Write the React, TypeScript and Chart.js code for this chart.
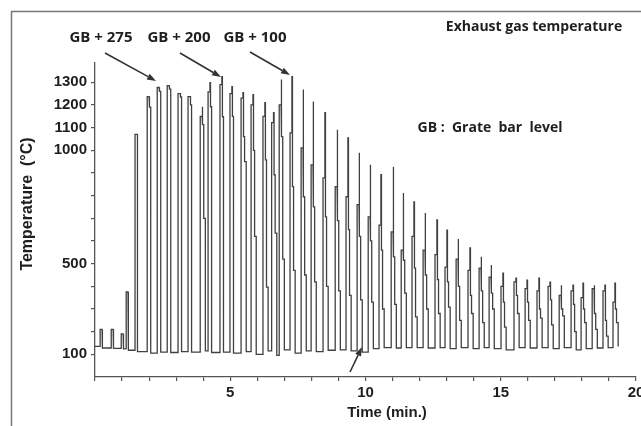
import React, { useEffect, useRef } from 'react';
import { Chart, registerables } from 'chart.js';

Chart.register(...registerables);

// Each recorder cycle: rise to a first level, jump to the peak, step down twice, fall to the low level.
const peakTimes = [0.26, 0.67, 1.04, 1.22, 1.55, 2.0, 2.37, 2.74, 3.14, 3.51, 3.96, 4.25, 4.69, 5.06, 5.47, 5.84, 6.28, 6.6, 6.88, 7.28, 7.69, 8.06, 8.5, 8.95, 9.35, 9.76, 10.17, 10.57, 11.02, 11.39, 11.79, 12.2, 12.64, 13.01, 13.42, 13.86, 14.27, 14.64, 15.08, 15.56, 15.97, 16.41, 16.82, 17.23, 17.67, 18.04, 18.45, 18.85, 19.22];
const riseLevels = [210, 210, 190, 375, 1070, 1237, 1277, 1285, 1250, 1237, 1150, 1258, 1290, 1250, 1230, 1200, 1150, 1122, 1200, 1077, 1011, 936, 878, 840, 795, 760, 706, 670, 640, 560, 620, 560, 540, 485, 520, 470, 480, 440, 400, 420, 390, 380, 400, 360, 380, 350, 390, 380, 330];
const peakLevels = [210, 210, 190, 375, 1070, 1237, 1277, 1285, 1250, 1237, 1192, 1298, 1325, 1281, 1254, 1245, 1210, 1166, 1312, 1325, 1268, 1215, 1166, 1091, 1055, 989, 936, 892, 927, 812, 772, 723, 693, 648, 609, 569, 530, 494, 458, 436, 427, 436, 418, 405, 405, 414, 405, 405, 414];
const upperSteps = [128, 126, 124, 118, 112, 1190, 1260, 1270, 1235, 1200, 1113, 1192, 1148, 1150, 1060, 1000, 958, 892, 1060, 840, 795, 750, 706, 690, 650, 620, 600, 560, 530, 515, 480, 450, 430, 420, 400, 360, 380, 370, 330, 360, 330, 300, 340, 300, 320, 300, 280, 250, 300];
const lowerSteps = [128, 126, 124, 118, 112, 105, 110, 108, 112, 110, 700, 108, 110, 105, 950, 620, 396, 635, 520, 470, 450, 420, 400, 380, 360, 340, 330, 300, 320, 370, 265, 300, 280, 308, 250, 280, 240, 300, 220, 280, 250, 260, 230, 270, 200, 240, 210, 180, 240];
const lowLevels = [128, 126, 124, 118, 112, 105, 110, 108, 112, 110, 115, 108, 110, 105, 112, 100, 115, 95, 120, 105, 115, 112, 118, 120, 115, 110, 125, 130, 128, 130, 130, 128, 130, 125, 130, 125, 130, 125, 120, 130, 128, 130, 125, 130, 120, 125, 128, 130, 135];
const startLevel = 135;

const xTickLabels = [5, 10, 15, 20];
const yTickLabels = [100, 500, 1000, 1100, 1200, 1300];

function buildTrace() {
  const pts: { x: number; y: number }[] = [{ x: 0, y: startLevel }];
  for (let i = 0; i < peakTimes.length; i++) {
    const t = peakTimes[i];
    const prevLow = i === 0 ? startLevel : lowLevels[i - 1];
    pts.push({ x: t - 0.07, y: prevLow });
    pts.push({ x: t - 0.07, y: riseLevels[i] });
    pts.push({ x: t, y: riseLevels[i] });
    pts.push({ x: t, y: peakLevels[i] });
    pts.push({ x: t + 0.02, y: peakLevels[i] });
    pts.push({ x: t + 0.02, y: upperSteps[i] });
    pts.push({ x: t + 0.06, y: upperSteps[i] });
    pts.push({ x: t + 0.06, y: lowerSteps[i] });
    pts.push({ x: t + 0.12, y: lowerSteps[i] });
    pts.push({ x: t + 0.12, y: lowLevels[i] });
  }
  return pts;
}

function arrow(ctx: CanvasRenderingContext2D, x1: number, y1: number, x2: number, y2: number) {
  const ang = Math.atan2(y2 - y1, x2 - x1);
  const hl = 9, hw = 3.2;
  const bx = x2 - hl * Math.cos(ang), by = y2 - hl * Math.sin(ang);
  ctx.beginPath();
  ctx.moveTo(x1, y1);
  ctx.lineTo(bx, by);
  ctx.stroke();
  ctx.beginPath();
  ctx.moveTo(x2, y2);
  ctx.lineTo(bx + hw * Math.sin(ang), by - hw * Math.cos(ang));
  ctx.lineTo(bx - hw * Math.sin(ang), by + hw * Math.cos(ang));
  ctx.closePath();
  ctx.fill();
}

const decorPlugin = {
  id: 'decor',
  beforeDraw(chart: any) {
    const ctx = chart.ctx as CanvasRenderingContext2D;
    ctx.save();
    ctx.fillStyle = '#ffffff';
    ctx.fillRect(0, 0, chart.width, chart.height);
    ctx.strokeStyle = '#777777';
    ctx.lineWidth = 1.5;
    ctx.beginPath();
    ctx.moveTo(11.5, chart.height);
    ctx.lineTo(11.5, 11.5);
    ctx.lineTo(chart.width, 11.5);
    ctx.stroke();
    ctx.restore();
  },
  afterDraw(chart: any) {
    const ctx = chart.ctx as CanvasRenderingContext2D;
    ctx.save();
    ctx.fillStyle = '#1e1e1e';
    ctx.textAlign = 'center';
    ctx.textBaseline = 'middle';
    ctx.font = "bold 15px 'Open Sans'";
    ctx.fillText('GB + 275', 101, 38);
    ctx.fillText('GB + 200', 179, 38);
    ctx.fillText('GB + 100', 255, 38);
    ctx.font = "bold 14px 'Open Sans'";
    ctx.fillText('Exhaust gas temperature', 534, 27);
    ctx.fillText('GB :  Grate  bar  level', 490, 128);
    ctx.font = "bold 15px 'Liberation Sans'";
    ctx.fillText('Time (min.)', 387, 413);
    ctx.save();
    ctx.translate(28, 204);
    ctx.rotate(-Math.PI / 2);
    ctx.font = "bold 16px 'Liberation Sans'";
    ctx.fillText('Temperature  (°C)', 0, 0);
    ctx.restore();
    ctx.strokeStyle = '#333333';
    ctx.fillStyle = '#333333';
    ctx.lineWidth = 1.6;
    arrow(ctx, 105, 53, 156, 81);
    arrow(ctx, 180, 53, 221, 77);
    arrow(ctx, 250, 52, 290, 75);
    arrow(ctx, 350, 372, 362, 347);
    ctx.restore();
  },
};

export default function App() {
  const ref = useRef<HTMLCanvasElement | null>(null);
  useEffect(() => {
    if (!ref.current) return;
    const tickFont = { family: "'Liberation Sans'", weight: 'bold' as const, size: 15 };
    const chart = new Chart(ref.current, {
      type: 'line',
      data: {
        datasets: [
          {
            data: buildTrace(),
            borderColor: '#404040',
            borderWidth: 1.3,
            pointRadius: 0,
            tension: 0,
            fill: false,
          },
        ],
      },
      options: {
        animation: false,
        responsive: false,
        layout: { padding: { left: 0, right: 24, top: 63, bottom: 0 } },
        plugins: { legend: { display: false }, tooltip: { enabled: false } },
        scales: {
          x: {
            type: 'linear',
            min: 0,
            max: 20,
            afterFit: (s: any) => { s.height = 49; },
            ticks: {
              stepSize: 1,
              autoSkip: false,
              maxRotation: 0,
              padding: 3,
              color: '#1e1e1e',
              font: tickFont,
              callback: (v: any) => (xTickLabels.includes(Number(v)) ? String(v) : ''),
            },
            grid: { drawOnChartArea: false, drawTicks: true, tickLength: 4, color: '#555555', lineWidth: 1.2 },
            border: { display: true, color: '#555555', width: 1.3 },
          },
          y: {
            type: 'linear',
            min: 0,
            max: 1385,
            afterFit: (s: any) => { s.width = 95; },
            ticks: {
              stepSize: 100,
              autoSkip: false,
              padding: 4,
              color: '#1e1e1e',
              font: tickFont,
              callback: (v: any) => (yTickLabels.includes(Number(v)) ? String(v) : ''),
            },
            grid: {
              drawOnChartArea: false,
              drawTicks: true,
              tickLength: 4,
              lineWidth: 1.2,
              color: (c: any) => (c.tick && c.tick.value % 100 === 0 && c.tick.value > 0 ? '#555555' : 'rgba(0,0,0,0)'),
            },
            border: { display: true, color: '#555555', width: 1.3 },
          },
        },
      },
      plugins: [decorPlugin],
    });
    return () => chart.destroy();
  }, []);
  return (
    <div style={{ position: 'absolute', left: 0, top: 0, width: 641, height: 426, overflow: 'hidden', background: '#fff' }}>
      <canvas ref={ref} width={660} height={426} style={{ width: 660, height: 426, display: 'block' }} />
    </div>
  );
}
